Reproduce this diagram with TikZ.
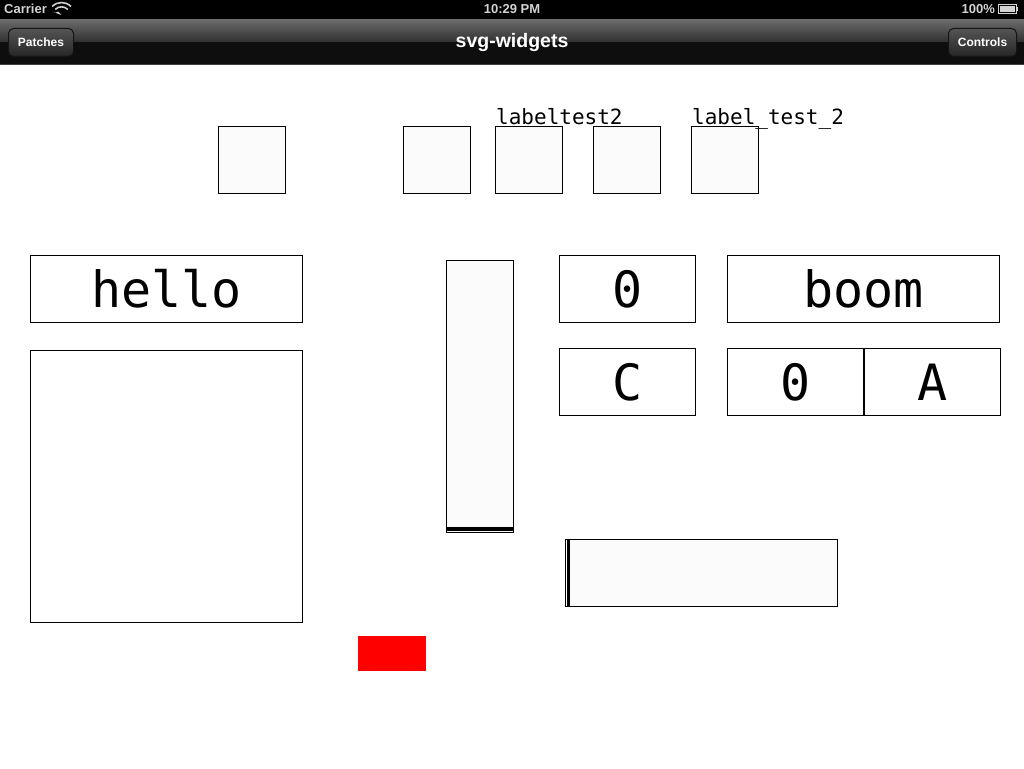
\documentclass[tikz,border=0pt]{standalone}
\usepackage{fontspec}
\setmainfont{Liberation Sans}
\newfontfamily\monofam{DejaVu Sans Mono}
\definecolor{navtop}{HTML}{6A6A6A}
\definecolor{navmid}{HTML}{303030}
\definecolor{navbot}{HTML}{0E0E0E}
\definecolor{btntop}{HTML}{545454}
\definecolor{btnbot}{HTML}{262626}
\definecolor{btnline}{HTML}{151515}
\definecolor{statuscol}{HTML}{D2D2D2}
\definecolor{wfill}{HTML}{FBFBFB}
\definecolor{redfill}{HTML}{FF0000}
\begin{document}
\begin{tikzpicture}[x=1pt,y=-1pt,
  widget/.style={draw=black, line width=1.4pt, fill=wfill, inner sep=0pt, anchor=north west, outer sep=0pt},
  wbox/.style={widget, fill=white},
  square/.style={widget, minimum width=67pt, minimum height=67pt},
  bigtxt/.style={font=\monofam\fontsize{50}{50}\selectfont},
  lbl/.style={font=\monofam\fontsize{21}{21}\selectfont, inner sep=0pt, anchor=base west},
  navbtn/.style={draw=btnline, line width=1pt, rounded corners=5pt, top color=btntop, bottom color=btnbot, text=white, font=\bfseries\fontsize{12}{12}\selectfont, inner sep=0pt, anchor=north west},
  status/.style={text=statuscol, font=\bfseries\fontsize{13}{13}\selectfont, inner sep=0pt}
]
\useasboundingbox (0,0) rectangle (1024,768);
\fill[white] (0,0) rectangle (1024,768);
% status bar
\fill[black] (0,0) rectangle (1024,20);
\node[status, anchor=base west] (carrier) at (4,14) {Carrier};
\fill[statuscol] (61.5,15) -- ++(-3.2,-3.4) arc[start angle=-133, end angle=-47, radius=-4.7] -- cycle;
\draw[statuscol, line width=1.6pt] (55.3,9.4) arc[start angle=225, end angle=315, radius=8.8];
\draw[statuscol, line width=1.6pt] (52.2,6.4) arc[start angle=225, end angle=315, radius=13.2];
\node[status, anchor=base] (clock) at (512,14) {10:29 PM};
\node[status, anchor=base east] (battxt) at (995,14) {100\%};
\draw[statuscol, line width=1pt] (998,5) rectangle (1016,14);
\fill[statuscol] (999.5,6.5) rectangle (1014.5,12.5);
\fill[statuscol] (1016,7.5) rectangle (1018,11.5);
% nav bar
\shade[top color=navtop, bottom color=navmid] (0,20) rectangle (1024,42);
\fill[navbot] (0,42) rectangle (1024,64);
\fill[black!75] (0,64) rectangle (1024,65);
\node[text=white, font=\bfseries\fontsize{19.5}{19.5}\selectfont, inner sep=0pt] (title) at (512,42.5) {svg-widgets};
\node[navbtn, minimum width=65pt, minimum height=28pt] (patches) at (8,28) {Patches};
\node[navbtn, minimum width=68pt, minimum height=28pt] (controls) at (948,28) {Controls};
% top squares
\node[square] (sq1) at (218.5,126.5) {};
\node[square] (sq2) at (403.5,126.5) {};
\node[square] (sq3) at (495.5,126.5) {};
\node[square] (sq4) at (593.5,126.5) {};
\node[square] (sq5) at (691.5,126.5) {};
\node[lbl] (lbl1) at (496,124) {labeltest2};
\node[lbl] (lbl2) at (692,124) {label\_test\_2};
% left column
\node[wbox, minimum width=272pt, minimum height=67pt, bigtxt] (hello) at (30.5,255.5) {hello};
\node[wbox, minimum width=272pt, minimum height=272pt] (area) at (30.5,350.5) {};
% vertical slider
\node[widget, minimum width=67pt, minimum height=272pt] (vslider) at (446.5,260.5) {};
\fill[black] (446.5,527) rectangle (513.5,530.5);
% right boxes
\node[wbox, minimum width=136pt, minimum height=67pt, bigtxt] (num0) at (559.5,255.5) {0};
\node[wbox, minimum width=272pt, minimum height=67pt, bigtxt] (boom) at (727.5,255.5) {boom};
\node[wbox, minimum width=136pt, minimum height=67pt, bigtxt] (cbox) at (559.5,348.5) {C};
\node[wbox, minimum width=136pt, minimum height=67pt, bigtxt] (zbox) at (727.5,348.5) {0};
\node[wbox, minimum width=136pt, minimum height=67pt, bigtxt] (abox) at (864.5,348.5) {A};
% horizontal slider
\node[widget, minimum width=272pt, minimum height=67pt] (hslider) at (565.5,539.5) {};
\fill[black] (567,539.5) rectangle (570,606.5);
% red rect
\node[fill=redfill, inner sep=0pt, anchor=north west, minimum width=68pt, minimum height=35pt] (red) at (358,636) {};
\end{tikzpicture}
\end{document}
